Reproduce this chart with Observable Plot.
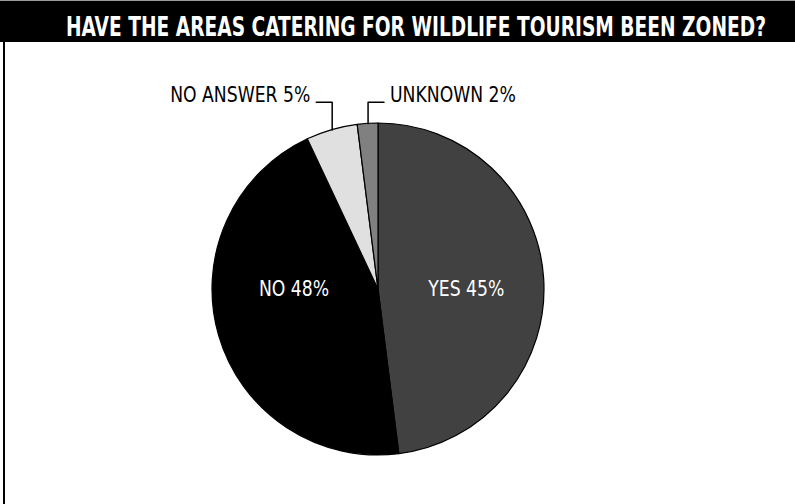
<!DOCTYPE html>
<html><head><meta charset="utf-8">
<script src="https://cdn.jsdelivr.net/npm/d3@7"></script>
<script src="https://cdn.jsdelivr.net/npm/@observablehq/plot@0.6"></script>
<style>
html,body{margin:0;padding:0;background:#fff;overflow:hidden}
#wrap{position:relative;width:795px;height:504px;overflow:hidden}
#topline{position:absolute;left:0;top:0;width:795px;height:1px;background:#9a9a9a}
#head{position:absolute;left:0;top:1px;line-height:0}
#box{position:absolute;left:3px;top:42px;width:900px;height:500px;border-left:2px solid #000}
#chart{position:absolute;left:0;top:44px}
</style>
</head><body>
<div id="wrap"><div id="topline"></div><div id="box"></div><div id="chart"></div><div id="head"></div></div>
<script>
// ---- data ----
const titleText = "HAVE THE AREAS CATERING FOR WILDLIFE TOURISM BEEN ZONED?";
const categories = ["YES", "NO", "NO ANSWER", "UNKNOWN"];
// percentages as printed in the labels
const printedPercent = [45, 48, 5, 2];
// angular share of each slice as drawn (clockwise from 12 o'clock)
const sliceShare = [48, 45, 5, 2];

// ---- styles / layout ----
const sliceColors = ["#414141", "#000000", "#e0e0e0", "#808080"];
const font = "'Liberation Sans Narrow','DejaVu Sans Condensed',sans-serif";
const insideLabels = new Set(["YES", "NO"]);
const leaderDir = {"NO ANSWER": -1, "UNKNOWN": 1};
const labelRowY = 1.128, leaderLen = 0.096, labelGap = 0.036, insideR = 0.53;
const labelSize = 21.5, squeeze = 0.89;

// ---- title bar ----
const head = d3.create("svg").attr("width", 795).attr("height", 42);
head.append("rect").attr("width", 795).attr("height", 41).attr("fill", "#000");
head.append("text").attr("transform", "translate(416,34.5) scale(1,1.3)")
  .attr("text-anchor", "middle")
  .attr("fill", "#fff").attr("font-family", font).attr("font-weight", "bold")
  .attr("font-size", 20).attr("textLength", 700).attr("lengthAdjust", "spacingAndGlyphs")
  .text(titleText);
document.getElementById("head").append(head.node());

// ---- pie geometry via d3.pie ----
const arcs = d3.pie().sort(null).value((d, i) => sliceShare[i])(categories);
const rows = arcs.map((a, i) => {
  const mid = (a.startAngle + a.endAngle) / 2;
  return {name: categories[i], pct: printedPercent[i], mid, sx: Math.sin(mid), sy: Math.cos(mid)};
});
const inside = rows.filter(r => insideLabels.has(r.name));
const outside = rows.filter(r => !insideLabels.has(r.name));
const outsideLeft = outside.filter(r => leaderDir[r.name] < 0);
const outsideRight = outside.filter(r => leaderDir[r.name] > 0);
const leaders = outside.flatMap(r => [
  {name: r.name, x: r.sx, y: r.sy},
  {name: r.name, x: r.sx, y: labelRowY},
  {name: r.name, x: r.sx + leaderDir[r.name] * leaderLen, y: labelRowY}
]);
const fillOf = d3.scaleOrdinal(categories, sliceColors);

function pieSlices(index, scales) {
  const cx = scales.x(0), cy = scales.y(0), r = scales.x(1) - scales.x(0);
  const arc = d3.arc().innerRadius(0).outerRadius(r);
  const g = d3.create("svg:g").attr("transform", `translate(${cx},${cy})`);
  g.selectAll("path").data(arcs).join("path")
    .attr("d", arc).attr("fill", d => fillOf(d.data))
    .attr("stroke", "#000").attr("stroke-width", 1.2).attr("stroke-linejoin", "round");
  return g.node();
}

const outsideText = (data, anchor) => Plot.text(data, {
  x: r => r.sx + leaderDir[r.name] * (leaderLen + labelGap), y: () => labelRowY,
  text: r => `${r.name} ${r.pct}%`, textAnchor: anchor,
  lineAnchor: "bottom", fontSize: labelSize, fill: "#000"
});

const chart = Plot.plot({
  width: 795, height: 460, margin: 0,
  x: {domain: [-1, 1], range: [212, 544], axis: null},
  y: {domain: [-1, 1], range: [411, 79], axis: null},
  style: {fontFamily: font, background: "transparent", overflow: "visible"},
  marks: [
    pieSlices,
    Plot.line(leaders, {x: "x", y: "y", z: "name", stroke: "#000", strokeWidth: 1.5}),
    outsideText(outsideLeft, "end"),
    outsideText(outsideRight, "start"),
    Plot.text(inside, {
      x: r => insideR * r.sx, y: () => 0, text: r => `${r.name} ${r.pct}%`,
      textAnchor: "middle", lineAnchor: "middle", fontSize: labelSize, fill: "#fff"
    })
  ]
});
document.getElementById("chart").append(chart);
// condense the label glyphs horizontally (no narrow font is installed)
chart.querySelectorAll("text").forEach(t => {
  const len = t.getComputedTextLength();
  if (len > 0) {
    t.setAttribute("textLength", (len * squeeze).toFixed(1));
    t.setAttribute("lengthAdjust", "spacingAndGlyphs");
  }
});
</script>
</body></html>
